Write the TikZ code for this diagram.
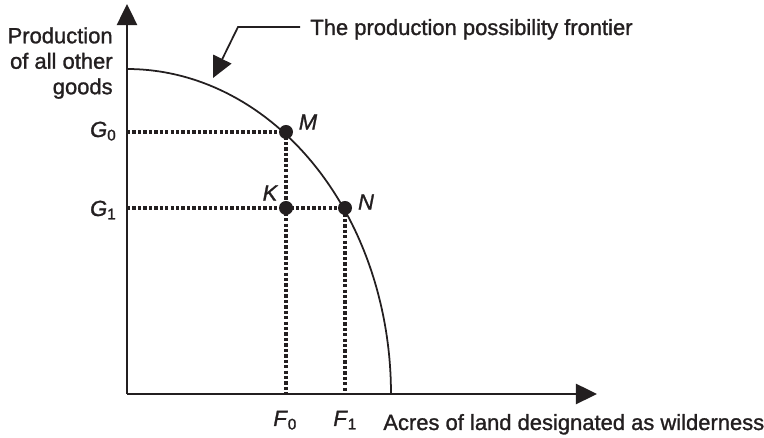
\documentclass[tikz,border=0pt]{standalone}
\usepackage{fontspec}
\setmainfont{Liberation Sans}[FakeBold=1.2]
\usetikzlibrary{arrows.meta}
\definecolor{ink}{RGB}{35,31,32}
\begin{document}
\begin{tikzpicture}[x=0.02cm,y=0.02cm,axis/.style={-{Triangle[length=12pt,width=11.5pt]}, line width=1.1pt, ink},curve/.style={line width=1pt, ink},guide/.style={ink, line width=1.9pt, dash pattern=on 1.9pt off 1.2pt},dot/.style={circle, fill=ink, inner sep=0pt, minimum size=0.28cm},lbl/.style={font=\fontsize{12.5}{14.5}\selectfont, text=ink, inner sep=0pt},pt/.style={lbl, font=\fontsize{12.5}{14.5}\selectfont\itshape}]
\useasboundingbox (0,0) rectangle (764,438);
% axes and frontier
\coordinate (O) at (127,44); \coordinate (ytip) at (127,434); \coordinate (xtip) at (597,44);
\draw[axis] (O) -- (ytip); \draw[axis] (O) -- (xtip);
\draw[curve, domain=0:90, samples=90] plot ({127+264*cos(\x)},{44+325*sin(\x)});
% points and guides
\coordinate (M) at (286,306); \coordinate (K) at (286,230); \coordinate (N) at (345,230);
\draw[guide] (O |- M) -- (M) -- (M |- O); \draw[guide] (O |- N) -- (N) -- (N |- O);
\node[dot] (m) at (M) {}; \node[dot] (k) at (K) {}; \node[dot] (n) at (N) {};
\node[pt] at (308,316) {M}; \node[pt] at (270,245) {K}; \node[pt] at (366,236) {N};
% axis labels
\node[lbl, anchor=base east] (g0) at (117,301) {\textit{G}\textsubscript{0}};
\node[lbl, anchor=base east] (g1) at (117,222) {\textit{G}\textsubscript{1}};
\node[lbl, anchor=base west] (f0) at (273,12) {\textit{F}\textsubscript{0}};
\node[lbl, anchor=base west] (f1) at (333,12) {\textit{F}\textsubscript{1}};
\node[lbl, anchor=base west] (xlab) at (383,8) {Acres of land designated as wilderness};
\node[lbl, anchor=north east, align=right] (ylab) at (113,411) {Production\\of all other\\goods};
% callout
\node[lbl, anchor=base west] (title) at (310,403) {The production possibility frontier};
\coordinate (kink) at (238,411); \coordinate (ctip) at (213,360);
\draw[-{Triangle[length=12pt,width=11.5pt]}, line width=1pt, ink] ([shift={(-10,8)}]title.base west) -- (kink) -- (ctip);
\end{tikzpicture}
\end{document}
